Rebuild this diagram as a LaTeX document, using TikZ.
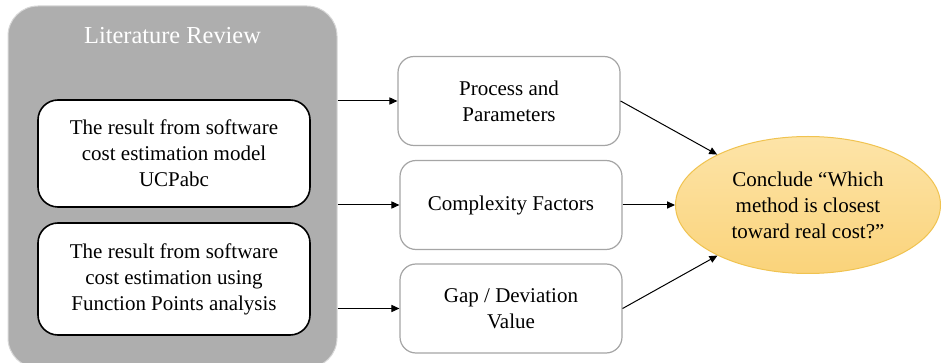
\documentclass[tikz,border=0pt]{standalone}
\usepackage{fontspec}
\setmainfont{Liberation Serif}
\usepackage{xcolor}
\usetikzlibrary{arrows.meta,shapes.geometric}
\definecolor{litgray}{RGB}{174,174,174}
\definecolor{litedge}{RGB}{215,215,215}
\definecolor{boxedge}{RGB}{165,165,165}
\definecolor{concltop}{RGB}{253,228,168}
\definecolor{conclbot}{RGB}{250,211,122}
\definecolor{concledge}{RGB}{240,195,80}

\begin{document}
\begin{tikzpicture}[x=0.5pt,y=-0.5pt,font=\fontsize{10.5}{13}\selectfont,
      panel/.style={draw=litedge,line width=0.5pt,fill=litgray,rounded corners=15pt,minimum width=164.5pt,minimum height=181pt},
      src/.style={draw,line width=0.8pt,fill=white,rounded corners=10pt,minimum width=136pt,align=center,inner sep=2pt},
      mid/.style={draw=boxedge,line width=0.6pt,fill=white,rounded corners=8pt,minimum width=111pt,minimum height=44.5pt,align=center,inner sep=2pt},
      concl/.style={ellipse,draw=concledge,line width=0.5pt,top color=concltop,bottom color=conclbot,minimum width=132.5pt,minimum height=68.5pt,align=center,inner sep=0pt},
      arr/.style={-{Triangle[length=4pt,width=3.6pt]},line width=0.5pt}]
    \useasboundingbox (0,0) rectangle (943,363);
    % left panel
    \node[panel] (lit) at (172.5,187) {};
    \node[text=white,font=\fontsize{12.2}{14}\selectfont] (littitle) at (172.5,36) {Literature Review};
    \node[src,minimum height=53.5pt] (ucp) at (174,153.5) {The result from software\\cost estimation model\\UCPabc};
    \node[src,minimum height=56pt] (fpa) at (174,279) {The result from software\\cost estimation using\\Function Points analysis};
    % middle column
    \node[mid] (proc) at (509,101) {Process and\\Parameters};
    \node[mid] (cplx) at (511,205) {Complexity Factors};
    \node[mid] (gap) at (511,308.5) {Gap / Deviation\\Value};
    % conclusion
    \node[concl] (end) at (808,205) {Conclude \textquotedblleft Which\\method is closest\\toward real cost?\textquotedblright};
    \foreach \b in {proc,cplx,gap} {
      \draw[arr] (lit.east |- \b.west) -- (\b.west);
      \draw[arr] (\b.east) -- (end);
    }
  \end{tikzpicture}
\end{document}
